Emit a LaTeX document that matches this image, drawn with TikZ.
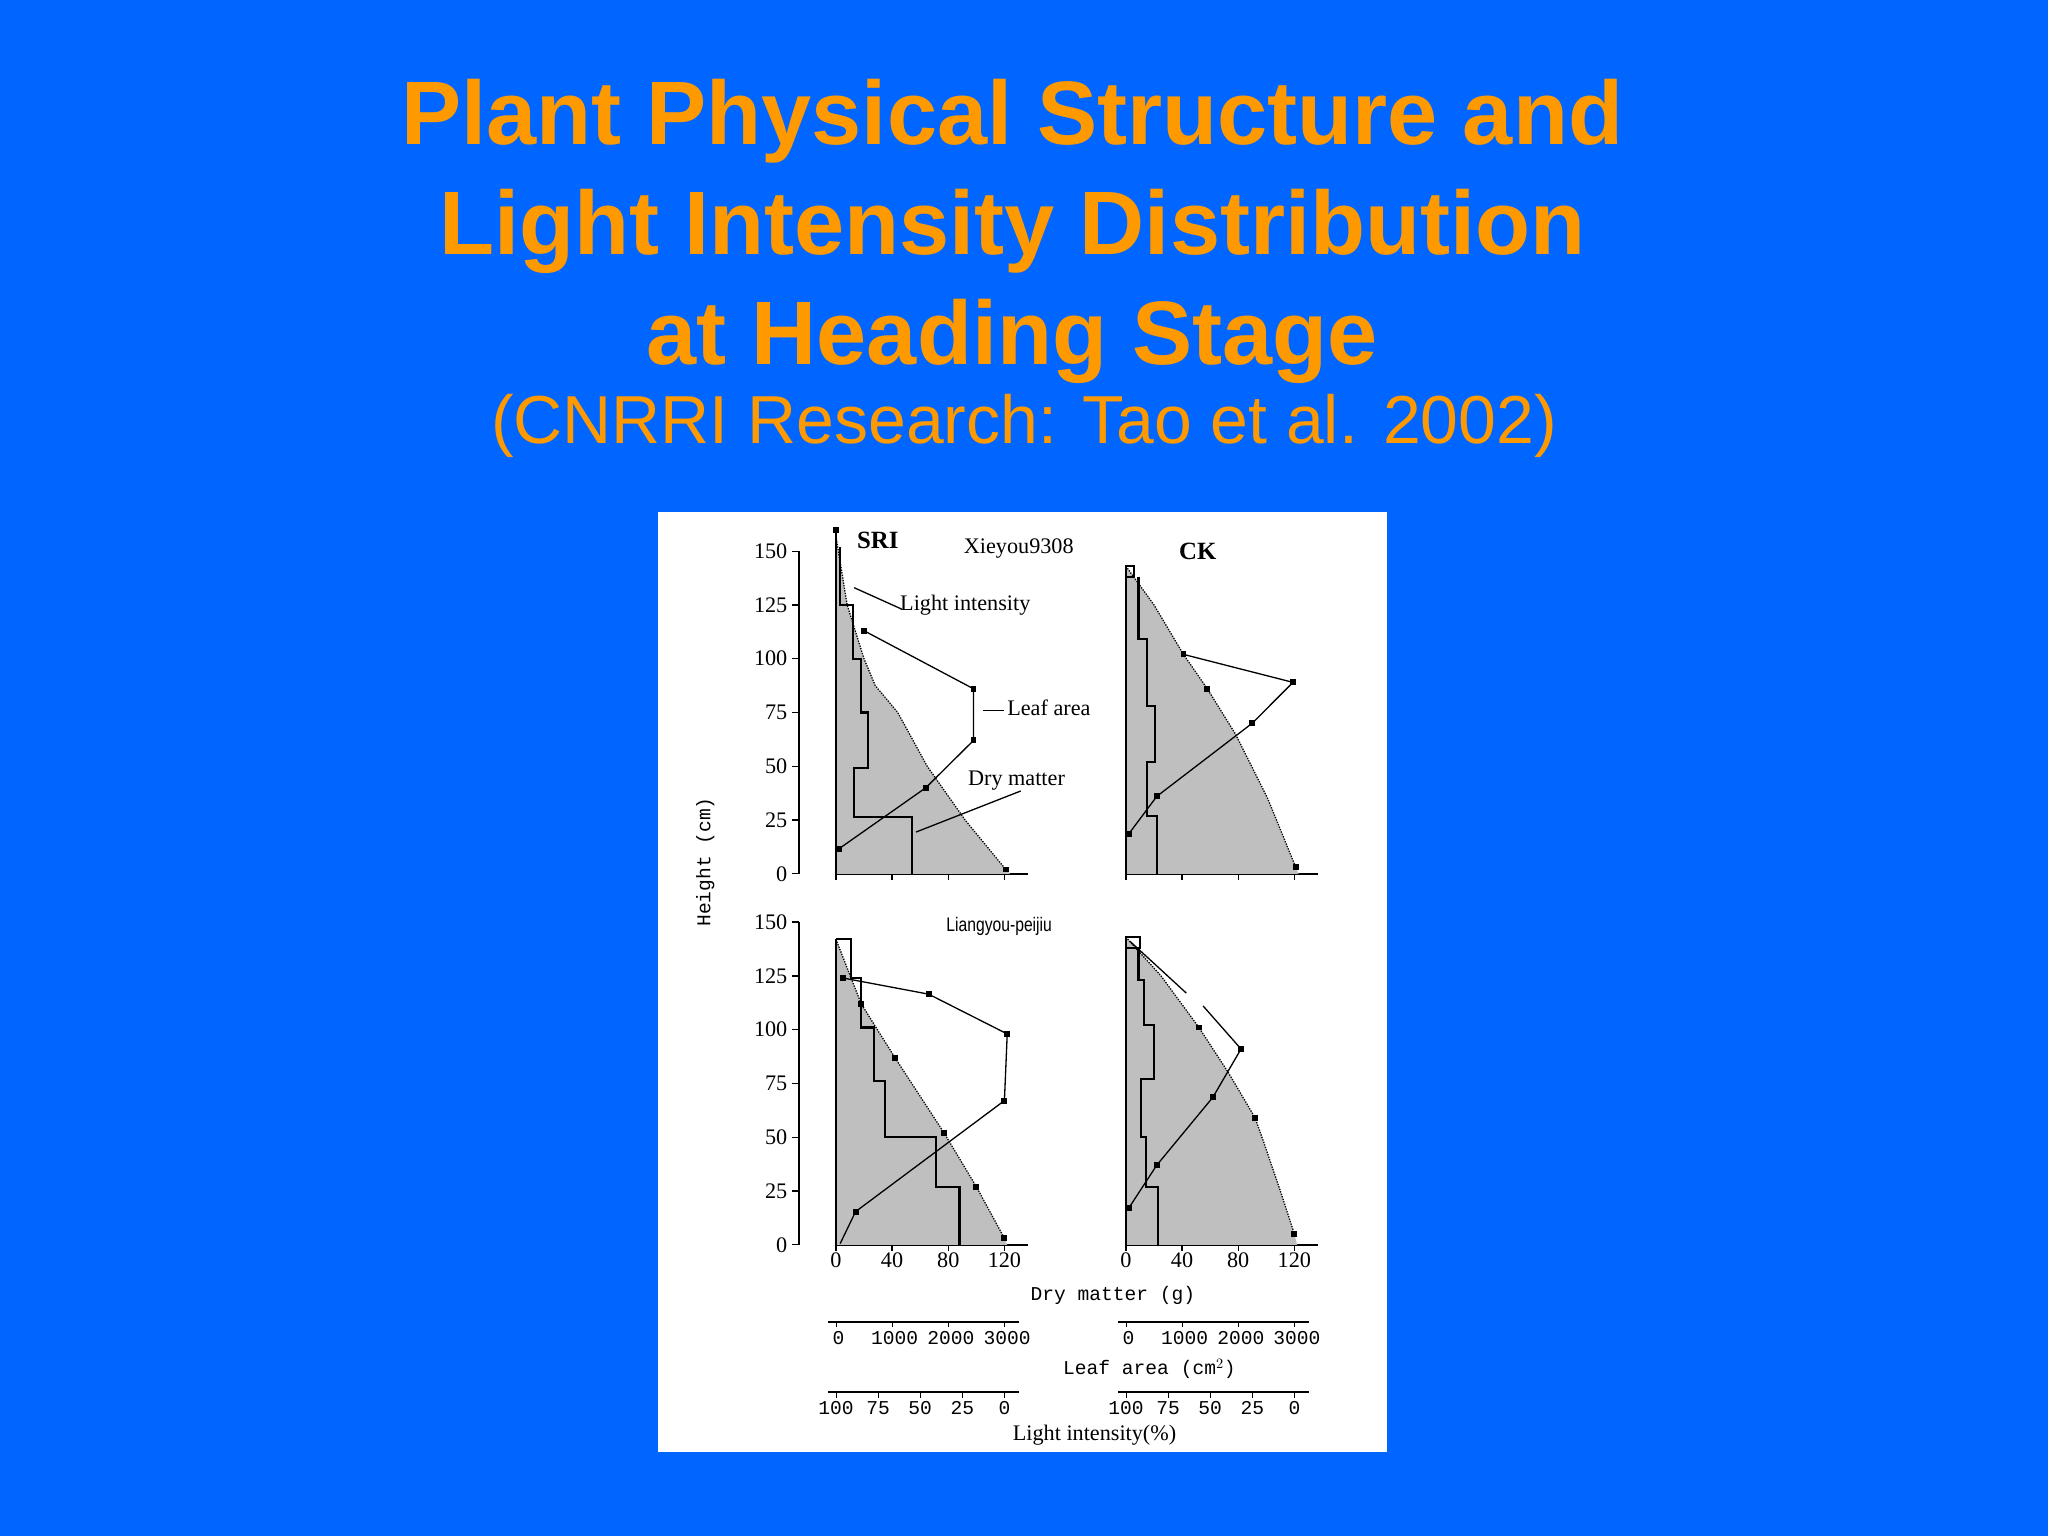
\documentclass[tikz,border=0pt]{standalone}
\usepackage{fontspec}
\setmainfont{Liberation Sans}
\newfontfamily\chartserif{Liberation Serif}
\newfontfamily\chartmono{Liberation Mono}
\begin{document}
\begin{tikzpicture}[x=1pt,y=-1pt,
  ax/.style={line width=1.4pt},
  dry/.style={line width=1.6pt},
  leaf/.style={line width=1pt},
  lightln/.style={line width=1pt,densely dotted},
  shade/.style={fill=black!25,draw=none},
  mk/.style={fill=black,draw=none,minimum size=4.5pt,inner sep=0pt,rectangle},
  num/.style={font=\chartserif\fontsize{17}{17}\selectfont,inner sep=1pt},
  mono/.style={font=\chartmono\fontsize{15}{15}\selectfont,inner sep=1pt},
  lbl/.style={font=\chartserif\fontsize{17}{17}\selectfont,inner sep=1pt}]
\fill[fill={rgb,255:red,0;green,102;blue,255}] (0,0) rectangle (1568,1176);
\useasboundingbox (0,0) rectangle (1568,1176);
\definecolor{ttl}{RGB}{255,153,0}
\node[font=\bfseries\fontsize{69}{84}\selectfont,text=ttl,align=center] (title) at (775,177)
  {Plant Physical Structure and\\Light Intensity Distribution\\at Heading Stage};
\node[font=\fontsize{52}{52}\selectfont,text=ttl] (sub) at (784,326) {(CNRRI Research: Tao et al. 2002)};
\fill[white] (504,392) rectangle (1062,1112);

% ---------- y axes with labels ----------
\foreach \oy in {669,953}{
  \draw[ax] (612,\oy) -- (612,\oy-247);
  \foreach \v/\k in {0/0,25/1,50/2,75/3,100/4,125/5,150/6}{
    \draw[line width=1pt] (612,\oy-41.17*\k) -- (606,\oy-41.17*\k);
    \node[num,anchor=east] at (604,\oy-41.17*\k) {\v};
  }
}
% x axes
\foreach \ox/\oy in {640/669,862/669,640/953,862/953}{
  \draw[ax] (\ox,\oy) -- (\ox+147,\oy);
  \foreach \k in {0,1,2,3}{\draw[line width=1pt] (\ox+43*\k,\oy) -- (\ox+43*\k,\oy+5);}
}
\foreach \ox in {640,862}{
  \foreach \v/\k in {0/0,40/1,80/2,120/3}{\node[num,anchor=north] at (\ox+43*\k,958) {\v};}
}
\node[mono] (dmx) at (852,992) {Dry matter (g)};
\node[mono,rotate=90] (hy) at (540,660) {Height (cm)};

% leaf area and light axes
\foreach \ox in {640,862}{
  \draw[ax] (\ox-6,1012) -- (\ox+140,1012);
  \draw[ax] (\ox-6,1066) -- (\ox+140,1066);
  \foreach \v/\k in {0/0,1000/1,2000/2,3000/3}{
    \draw (\ox+43*\k,1012) -- (\ox+43*\k,1016);
    \node[mono,anchor=north] at (\ox+2+43*\k,1018) {\v};}
  \foreach \v/\k in {100/0,75/1,50/2,25/3,0/4}{
    \draw (\ox+32.25*\k,1066) -- (\ox+32.25*\k,1070);
    \node[mono,anchor=north] at (\ox+32.25*\k,1072) {\v};}
}
\node[mono] (lax) at (880,1048) {Leaf area (cm$^2$)};
\node[lbl] (lix) at (838,1099) {Light intensity(\%)};

% ---------- TL panel ----------
\begin{scope}[shift={(640,669)},x=1.075pt,y=1.647pt]
  \fill[shade] (0,0)--(0,157)--(8,125)--(20,100)--(28,87.5)--(44,75)--(65,50)--(92,25)--(121,2)--(124,0)--cycle;
  \draw[lightln] (0,157)--(8,125)--(20,100)--(28,87.5)--(44,75)--(65,50)--(92,25)--(121,2);
  \draw[dry] (0,0)--(0,160);
  \draw[dry] (3,152)--(3,125)--(12,125)--(12,100)--(18,100)--(18,75)--(23,75)--(23,49)--(13,49)--(13,26.5)--(54,26.5)--(54,0);
  \draw[leaf] (2.3,11.7)--(64,40)--(98,62)--(98,86)--(20,113);
  \foreach \p in {(2.3,11.7),(64,40),(98,62),(98,86),(20,113),(0,160),(121,2)}{\node[mk] at \p {};}
  \draw[leaf] (13,133)--(47,123);
  \draw[leaf] (105,76)--(120,76);
  \draw[leaf] (131.6,38.5)--(57,19.4);
\end{scope}
\node[font=\chartserif\bfseries\fontsize{19}{19}\selectfont] (sri) at (672,414) {SRI};
\node[lbl] (xie) at (780,420) {Xieyou9308};
\node[font=\chartserif\bfseries\fontsize{19}{19}\selectfont] (ck) at (917,422) {CK};
\node[lbl,anchor=west] (lit) at (688,463) {Light intensity};
\node[lbl,anchor=west] (lat) at (770,542) {Leaf area};
\node[lbl,anchor=west] (dmt) at (740,598) {Dry matter};
\node[font=\fontsize{15}{15}\selectfont\addfontfeature{FakeStretch=0.8}] (lyp) at (765,709) {Liangyou-peijiu};

% ---------- TR panel ----------
\begin{scope}[shift={(862,669)},x=1.075pt,y=1.647pt]
  \fill[shade] (0,0)--(0,143)--(20,125)--(41,102)--(58,86)--(78,65)--(101,35)--(121,3)--(123,0)--cycle;
  \draw[lightln] (0,143)--(20,125)--(41,102)--(58,86)--(78,65)--(101,35)--(121,3);
  \draw[dry] (0,0)--(0,143);
  \draw[dry] (0,138) rectangle (6,143);
  \draw[dry] (9,138)--(9,109)--(15,109)--(15,78)--(21,78)--(21,52)--(15,52)--(15,27)--(22,27)--(22,0);
  \draw[leaf] (2,18.5)--(22,36)--(90,70)--(119,89)--(41,102);
  \foreach \p in {(2,18.5),(22,36),(90,70),(119,89),(41,102),(58,86),(121,3)}{\node[mk] at \p {};}
\end{scope}

% ---------- BL panel ----------
\begin{scope}[shift={(640,953)},x=1.075pt,y=1.647pt]
  \fill[shade] (0,0)--(0,142)--(18,112)--(42,87)--(77,52)--(100,27)--(120,3)--(122,0)--cycle;
  \draw[lightln] (0,142)--(18,112)--(42,87)--(77,52)--(100,27)--(120,3);
  \draw[dry] (0,0)--(0,142);
  \draw[dry] (0,142)--(11,142)--(11,124)--(18,124)--(18,101)--(27,101)--(27,76)--(35,76)--(35,50)--(71,50)--(71,27)--(88,27)--(88,0);
  \draw[leaf] (3,0.5)--(14,15.4)--(120,67)--(122,98)--(66,116.5)--(5,124);
  \foreach \p in {(14,15.4),(120,67),(122,98),(66,116.5),(5,124),(18,112),(42,87),(77,52),(100,27),(120,3)}{\node[mk] at \p {};}
\end{scope}

% ---------- BR panel ----------
\begin{scope}[shift={(862,953)},x=1.075pt,y=1.647pt]
  \fill[shade] (0,0)--(0,143)--(25,125)--(52,101)--(73,80)--(92,59)--(98,48)--(110,25)--(120,5)--(122,0)--cycle;
  \draw[lightln] (0,143)--(25,125)--(52,101)--(73,80)--(92,59)--(98,48)--(110,25)--(120,5);
  \draw[dry] (0,0)--(0,143);
  \draw[dry] (0,138) rectangle (10,143);
  \draw[dry] (9,138)--(9,123)--(13,123)--(13,102)--(20,102)--(20,77)--(11,77)--(11,50)--(14,50)--(14,27)--(23,27)--(23,0);
  \draw[leaf] (2,17)--(22,37)--(62,68.6)--(82,91)--(55,111);
  \draw[leaf] (43,117)--(3,141);
  \foreach \p in {(2,17),(22,37),(62,68.6),(82,91),(52,101),(92,59),(120,5)}{\node[mk] at \p {};}
\end{scope}
\end{tikzpicture}
\end{document}
